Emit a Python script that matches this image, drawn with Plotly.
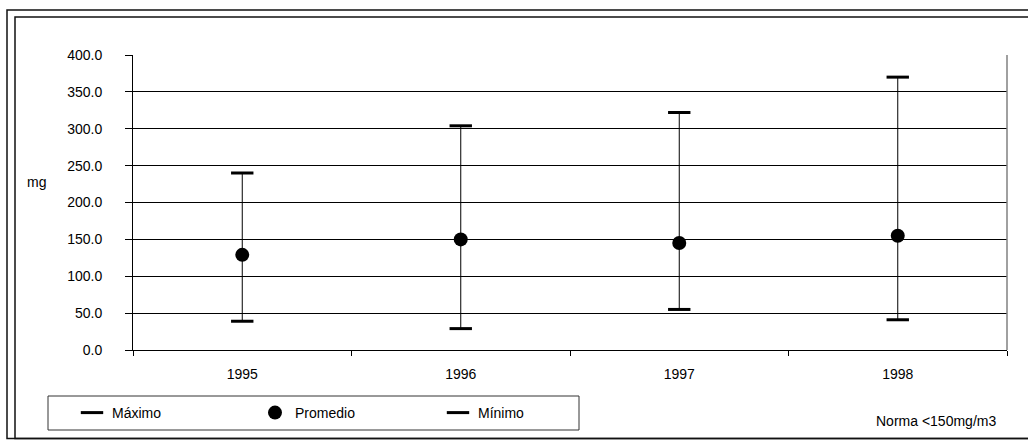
import plotly.graph_objects as go

# Annual particulate readings (mg)
years = ["1995", "1996", "1997", "1998"]
maximo = [240, 304, 322, 370]
promedio = [129, 150, 145, 155]
minimo = [39, 29, 55, 41]

W, H = 1028, 441
ML, MR, MT, MB = 133, 21, 55, 91
PW, PH = W - ML - MR, H - MT - MB


def px_x(p):
    return (p - ML) / PW


def px_y(p):
    return (H - MB - p) / PH


FONT = "Liberation Sans, Arial, sans-serif"

fig = go.Figure()

fig.add_trace(go.Scatter(
    x=years, y=maximo, name="Máximo", mode="markers",
    marker=dict(symbol="line-ew", size=16, color="black",
                line=dict(width=3, color="black")),
))
fig.add_trace(go.Scatter(
    x=years, y=promedio, name="Promedio", mode="markers",
    marker=dict(symbol="circle", size=14, color="black"),
    error_y=dict(type="data", symmetric=False,
                 array=[mx - pr for mx, pr in zip(maximo, promedio)],
                 arrayminus=[pr - mn for pr, mn in zip(promedio, minimo)],
                 width=0, thickness=1, color="black"),
))
fig.add_trace(go.Scatter(
    x=years, y=minimo, name="Mínimo", mode="markers",
    marker=dict(symbol="line-ew", size=16, color="black",
                line=dict(width=3, color="black")),
))

shapes = [
    # outer double frame
    dict(type="rect", xref="paper", yref="paper",
         x0=px_x(7), x1=px_x(1040), y0=px_y(438.5), y1=px_y(10),
         line=dict(color="#111", width=1.5)),
    dict(type="rect", xref="paper", yref="paper",
         x0=px_x(15), x1=px_x(1040), y0=px_y(438.5), y1=px_y(17),
         line=dict(color="#111", width=1.5)),
    # right edge of plot area
    dict(type="line", xref="paper", yref="paper",
         x0=1, x1=1, y0=0, y1=1, line=dict(color="#808080", width=1.5)),
    # legend box
    dict(type="rect", xref="paper", yref="paper",
         x0=px_x(48), x1=px_x(579), y0=px_y(430), y1=px_y(396),
         line=dict(color="#333", width=1)),
]

annotations = [
    dict(text="mg", xref="paper", yref="paper", x=px_x(36), y=px_y(182),
         xanchor="center", yanchor="middle", showarrow=False,
         font=dict(size=14, color="black", family=FONT)),
    dict(text="Norma <150mg/m3", xref="paper", yref="paper",
         x=px_x(874), y=px_y(421), xanchor="left", yanchor="middle",
         showarrow=False, font=dict(size=14, color="black", family=FONT)),
]

fig.update_layout(
    width=W, height=H,
    margin=dict(l=ML, r=MR, t=MT, b=MB),
    paper_bgcolor="white", plot_bgcolor="white",
    font=dict(family=FONT, size=14, color="black"),
    showlegend=True,
    legend=dict(orientation="h", x=px_x(72), y=px_y(397),
                xanchor="left", yanchor="top",
                entrywidth=138, entrywidthmode="pixels",
                bgcolor="rgba(0,0,0,0)", borderwidth=0,
                font=dict(size=14, family=FONT)),
    xaxis=dict(type="category", range=[-0.5, 3.5], tickson="boundaries",
               ticks="outside", ticklen=5, tickcolor="black",
               showline=True, linecolor="black", linewidth=1,
               showgrid=False, zeroline=False, ticklabelstandoff=11),
    yaxis=dict(range=[0, 400], dtick=50, tickformat=".1f",
               ticks="outside", ticklen=7, tickcolor="black",
               showline=True, linecolor="black", linewidth=1,
               showgrid=True, gridcolor="black", gridwidth=1,
               zeroline=False, ticklabelstandoff=20),
    shapes=shapes,
    annotations=annotations,
)

fig.write_html("out.html")
